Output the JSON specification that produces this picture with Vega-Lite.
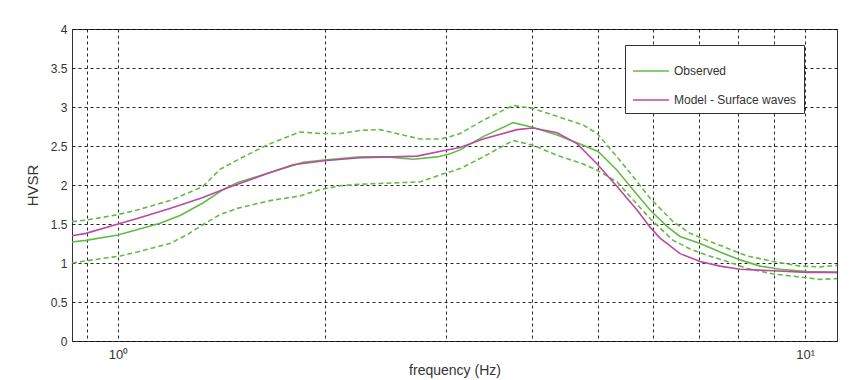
{
  "$schema": "https://vega.github.io/schema/vega-lite/v6.json",
  "autosize": {"type": "none"},
  "padding": {"left": 72, "top": 29, "right": 13, "bottom": 39},
  "width": 765,
  "height": 312,
  "background": "white",
  "config": {
    "font": "Liberation Sans",
    "view": {"stroke": "#333", "strokeWidth": 1},
    "axis": {
      "labelFont": "Liberation Sans",
      "titleFont": "Liberation Sans",
      "labelFontSize": 12,
      "titleFontSize": 15,
      "titleFontWeight": "normal",
      "labelColor": "#333",
      "titleColor": "#333",
      "domain": false,
      "ticks": false,
      "grid": true,
      "gridColor": "#000",
      "gridDash": [3, 3],
      "gridWidth": 1,
      "gridOpacity": 0.85
    }
  },
  "data": {
    "values": [
      {"f": 0.857, "v": 1.27, "s": "Observed"},
      {"f": 0.898, "v": 1.29, "s": "Observed"},
      {"f": 1.0, "v": 1.36, "s": "Observed"},
      {"f": 1.151, "v": 1.51, "s": "Observed"},
      {"f": 1.231, "v": 1.61, "s": "Observed"},
      {"f": 1.329, "v": 1.77, "s": "Observed"},
      {"f": 1.422, "v": 1.94, "s": "Observed"},
      {"f": 1.49, "v": 2.03, "s": "Observed"},
      {"f": 1.665, "v": 2.16, "s": "Observed"},
      {"f": 1.859, "v": 2.29, "s": "Observed"},
      {"f": 1.995, "v": 2.32, "s": "Observed"},
      {"f": 2.251, "v": 2.36, "s": "Observed"},
      {"f": 2.464, "v": 2.36, "s": "Observed"},
      {"f": 2.688, "v": 2.33, "s": "Observed"},
      {"f": 2.913, "v": 2.36, "s": "Observed"},
      {"f": 3.043, "v": 2.4, "s": "Observed"},
      {"f": 3.147, "v": 2.45, "s": "Observed"},
      {"f": 3.399, "v": 2.62, "s": "Observed"},
      {"f": 3.758, "v": 2.8, "s": "Observed"},
      {"f": 4.01, "v": 2.74, "s": "Observed"},
      {"f": 4.355, "v": 2.64, "s": "Observed"},
      {"f": 4.753, "v": 2.51, "s": "Observed"},
      {"f": 4.998, "v": 2.43, "s": "Observed"},
      {"f": 5.325, "v": 2.19, "s": "Observed"},
      {"f": 5.619, "v": 1.94, "s": "Observed"},
      {"f": 5.948, "v": 1.68, "s": "Observed"},
      {"f": 6.297, "v": 1.47, "s": "Observed"},
      {"f": 6.577, "v": 1.34, "s": "Observed"},
      {"f": 7.034, "v": 1.25, "s": "Observed"},
      {"f": 7.522, "v": 1.14, "s": "Observed"},
      {"f": 8.043, "v": 1.04, "s": "Observed"},
      {"f": 8.602, "v": 0.96, "s": "Observed"},
      {"f": 9.196, "v": 0.92, "s": "Observed"},
      {"f": 10.07, "v": 0.89, "s": "Observed"},
      {"f": 11.13, "v": 0.88, "s": "Observed"},

      {"f": 0.857, "v": 1.35, "s": "Model - Surface waves"},
      {"f": 0.898, "v": 1.38, "s": "Model - Surface waves"},
      {"f": 1.0, "v": 1.5, "s": "Model - Surface waves"},
      {"f": 1.066, "v": 1.57, "s": "Model - Surface waves"},
      {"f": 1.19, "v": 1.7, "s": "Model - Surface waves"},
      {"f": 1.329, "v": 1.84, "s": "Model - Surface waves"},
      {"f": 1.441, "v": 1.96, "s": "Model - Surface waves"},
      {"f": 1.665, "v": 2.16, "s": "Model - Surface waves"},
      {"f": 1.798, "v": 2.26, "s": "Model - Surface waves"},
      {"f": 1.995, "v": 2.31, "s": "Model - Surface waves"},
      {"f": 2.251, "v": 2.35, "s": "Model - Surface waves"},
      {"f": 2.514, "v": 2.36, "s": "Model - Surface waves"},
      {"f": 2.724, "v": 2.37, "s": "Model - Surface waves"},
      {"f": 2.973, "v": 2.44, "s": "Model - Surface waves"},
      {"f": 3.147, "v": 2.48, "s": "Model - Surface waves"},
      {"f": 3.399, "v": 2.59, "s": "Model - Surface waves"},
      {"f": 3.808, "v": 2.71, "s": "Model - Surface waves"},
      {"f": 4.02, "v": 2.73, "s": "Model - Surface waves"},
      {"f": 4.355, "v": 2.67, "s": "Model - Surface waves"},
      {"f": 4.657, "v": 2.53, "s": "Model - Surface waves"},
      {"f": 4.981, "v": 2.27, "s": "Model - Surface waves"},
      {"f": 5.325, "v": 1.98, "s": "Model - Surface waves"},
      {"f": 5.694, "v": 1.68, "s": "Model - Surface waves"},
      {"f": 5.948, "v": 1.46, "s": "Model - Surface waves"},
      {"f": 6.151, "v": 1.32, "s": "Model - Surface waves"},
      {"f": 6.577, "v": 1.12, "s": "Model - Surface waves"},
      {"f": 7.034, "v": 1.02, "s": "Model - Surface waves"},
      {"f": 7.522, "v": 0.96, "s": "Model - Surface waves"},
      {"f": 8.043, "v": 0.92, "s": "Model - Surface waves"},
      {"f": 8.984, "v": 0.9, "s": "Model - Surface waves"},
      {"f": 10.07, "v": 0.88, "s": "Model - Surface waves"},
      {"f": 11.13, "v": 0.88, "s": "Model - Surface waves"},

      {"f": 0.857, "v": 1.53, "s": "upper"},
      {"f": 0.898, "v": 1.55, "s": "upper"},
      {"f": 1.0, "v": 1.62, "s": "upper"},
      {"f": 1.066, "v": 1.68, "s": "upper"},
      {"f": 1.19, "v": 1.8, "s": "upper"},
      {"f": 1.329, "v": 1.98, "s": "upper"},
      {"f": 1.407, "v": 2.2, "s": "upper"},
      {"f": 1.521, "v": 2.36, "s": "upper"},
      {"f": 1.665, "v": 2.53, "s": "upper"},
      {"f": 1.721, "v": 2.58, "s": "upper"},
      {"f": 1.84, "v": 2.68, "s": "upper"},
      {"f": 1.968, "v": 2.66, "s": "upper"},
      {"f": 2.105, "v": 2.66, "s": "upper"},
      {"f": 2.251, "v": 2.7, "s": "upper"},
      {"f": 2.406, "v": 2.71, "s": "upper"},
      {"f": 2.574, "v": 2.65, "s": "upper"},
      {"f": 2.752, "v": 2.59, "s": "upper"},
      {"f": 2.943, "v": 2.59, "s": "upper"},
      {"f": 3.043, "v": 2.62, "s": "upper"},
      {"f": 3.147, "v": 2.66, "s": "upper"},
      {"f": 3.399, "v": 2.83, "s": "upper"},
      {"f": 3.758, "v": 3.02, "s": "upper"},
      {"f": 4.02, "v": 2.98, "s": "upper"},
      {"f": 4.355, "v": 2.88, "s": "upper"},
      {"f": 4.753, "v": 2.77, "s": "upper"},
      {"f": 4.981, "v": 2.66, "s": "upper"},
      {"f": 5.325, "v": 2.36, "s": "upper"},
      {"f": 5.619, "v": 2.11, "s": "upper"},
      {"f": 5.948, "v": 1.83, "s": "upper"},
      {"f": 6.425, "v": 1.53, "s": "upper"},
      {"f": 6.802, "v": 1.38, "s": "upper"},
      {"f": 7.201, "v": 1.29, "s": "upper"},
      {"f": 7.701, "v": 1.19, "s": "upper"},
      {"f": 8.234, "v": 1.09, "s": "upper"},
      {"f": 8.984, "v": 1.02, "s": "upper"},
      {"f": 9.833, "v": 0.96, "s": "upper"},
      {"f": 10.51, "v": 0.95, "s": "upper"},
      {"f": 11.13, "v": 0.97, "s": "upper"},

      {"f": 0.857, "v": 1.0, "s": "lower"},
      {"f": 0.951, "v": 1.06, "s": "lower"},
      {"f": 1.007, "v": 1.09, "s": "lower"},
      {"f": 1.066, "v": 1.14, "s": "lower"},
      {"f": 1.19, "v": 1.25, "s": "lower"},
      {"f": 1.259, "v": 1.36, "s": "lower"},
      {"f": 1.329, "v": 1.49, "s": "lower"},
      {"f": 1.407, "v": 1.62, "s": "lower"},
      {"f": 1.49, "v": 1.7, "s": "lower"},
      {"f": 1.665, "v": 1.8, "s": "lower"},
      {"f": 1.721, "v": 1.82, "s": "lower"},
      {"f": 1.84, "v": 1.86, "s": "lower"},
      {"f": 1.968, "v": 1.94, "s": "lower"},
      {"f": 2.105, "v": 1.99, "s": "lower"},
      {"f": 2.251, "v": 2.01, "s": "lower"},
      {"f": 2.406, "v": 2.02, "s": "lower"},
      {"f": 2.574, "v": 2.03, "s": "lower"},
      {"f": 2.752, "v": 2.04, "s": "lower"},
      {"f": 2.943, "v": 2.13, "s": "lower"},
      {"f": 3.147, "v": 2.21, "s": "lower"},
      {"f": 3.399, "v": 2.36, "s": "lower"},
      {"f": 3.758, "v": 2.57, "s": "lower"},
      {"f": 4.02, "v": 2.51, "s": "lower"},
      {"f": 4.355, "v": 2.38, "s": "lower"},
      {"f": 4.753, "v": 2.27, "s": "lower"},
      {"f": 4.981, "v": 2.19, "s": "lower"},
      {"f": 5.325, "v": 2.04, "s": "lower"},
      {"f": 5.619, "v": 1.81, "s": "lower"},
      {"f": 5.948, "v": 1.57, "s": "lower"},
      {"f": 6.425, "v": 1.29, "s": "lower"},
      {"f": 6.802, "v": 1.18, "s": "lower"},
      {"f": 7.201, "v": 1.1, "s": "lower"},
      {"f": 7.701, "v": 1.02, "s": "lower"},
      {"f": 8.234, "v": 0.93, "s": "lower"},
      {"f": 8.984, "v": 0.86, "s": "lower"},
      {"f": 9.833, "v": 0.82, "s": "lower"},
      {"f": 10.51, "v": 0.79, "s": "lower"},
      {"f": 11.13, "v": 0.8, "s": "lower"}
    ]
  },
  "encoding": {
    "x": {
      "field": "f",
      "type": "quantitative",
      "scale": {"type": "log", "domain": [0.857, 11.13], "nice": false},
      "axis": {
        "title": "frequency (Hz)",
        "titleFontSize": 14,
        "values": [0.9, 1, 2, 3, 4, 5, 6, 7, 8, 9, 10],
        "labelExpr": "datum.value == 1 ? '10⁰' : (datum.value == 10 ? '10¹' : '')",
        "labelFontSize": 13,
        "labelPadding": 7,
        "titlePadding": 2
      }
    },
    "y": {
      "field": "v",
      "type": "quantitative",
      "scale": {"domain": [0, 4], "nice": false},
      "axis": {
        "title": "HVSR",
        "format": "~g",
        "values": [0, 0.5, 1, 1.5, 2, 2.5, 3, 3.5, 4],
        "labelPadding": 5,
        "titlePadding": 10
      }
    }
  },
  "layer": [
    {
      "transform": [{"filter": "datum.s == 'upper' || datum.s == 'lower'"}],
      "mark": {"type": "line", "color": "#63bd45", "strokeWidth": 1.6, "strokeDash": [5, 3]},
      "encoding": {"detail": {"field": "s", "type": "nominal"}}
    },
    {
      "transform": [{"filter": "datum.s == 'Observed' || datum.s == 'Model - Surface waves'"}],
      "mark": {"type": "line", "strokeWidth": 1.6},
      "encoding": {
        "color": {
          "field": "s",
          "type": "nominal",
          "scale": {"domain": ["Observed", "Model - Surface waves"], "range": ["#63bd45", "#b84aa4"]},
          "legend": {
            "title": null,
            "orient": "none",
            "legendX": 553,
            "legendY": 16,
            "direction": "vertical",
            "strokeColor": "#333",
            "fillColor": "white",
            "padding": 7,
            "symbolType": "stroke",
            "symbolSize": 1300,
            "symbolStrokeWidth": 1.6,
            "labelFont": "Liberation Sans",
            "labelFontSize": 12,
            "labelColor": "#333",
            "labelOffset": 4,
            "rowPadding": 4
          }
        }
      }
    }
  ]
}
